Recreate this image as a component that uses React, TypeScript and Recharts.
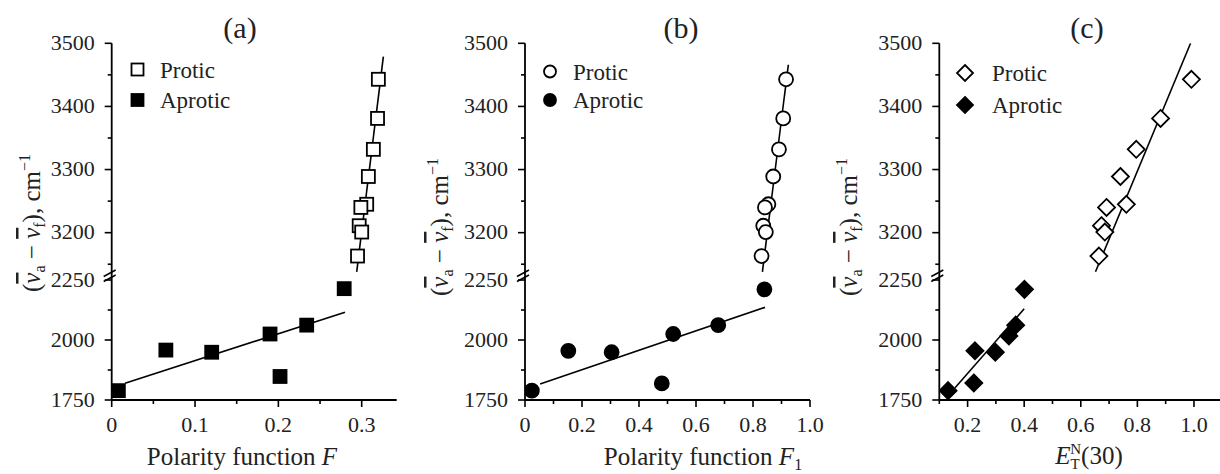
import React from 'react';
import { ScatterChart, Scatter, XAxis, YAxis, Customized } from 'recharts';

const FONT = "'Liberation Serif', 'Times New Roman', Times, serif";

// ---------------- data ----------------
// Stokes shift (cm^-1) of protic solvents
const shiftProtic = [3443, 3381, 3332, 3289, 3245, 3240, 3211, 3201, 3163];
// (a) polarity function F
const fProtic = [0.32, 0.319, 0.314, 0.308, 0.306, 0.299, 0.297, 0.3, 0.295];
const fAprotic = [0.008, 0.065, 0.12, 0.19, 0.202, 0.234, 0.279];
const shiftAproticA = [1789, 1958, 1949, 2025, 1848, 2062, 2214];
const fitFProticX = [0.294, 0.326];
const fitFProticY = [3138, 3479];
const fitFAproticX = [0.016, 0.28];
const fitFAproticY = [1820, 2116];
// (b) polarity function F1
const f1Protic = [0.916, 0.906, 0.891, 0.871, 0.854, 0.842, 0.836, 0.845, 0.83];
const f1Aprotic = [0.024, 0.152, 0.304, 0.48, 0.52, 0.678, 0.84];
const shiftAproticB = [1789, 1955, 1949, 1819, 2025, 2062, 2211];
const fitF1ProticX = [0.833, 0.924];
const fitF1ProticY = [3138, 3466];
const fitF1AproticX = [0.053, 0.842];
const fitF1AproticY = [1817, 2136];
// (c) E_T^N(30)
const etProtic = [0.991, 0.882, 0.796, 0.74, 0.761, 0.691, 0.673, 0.685, 0.664];
const etAprotic = [0.131, 0.226, 0.222, 0.298, 0.346, 0.37, 0.401];
const shiftAproticC = [1789, 1955, 1821, 1949, 2017, 2062, 2211];
const fitEtProticX = [0.652, 0.988];
const fitEtProticY = [3138, 3500];
const fitEtAproticX = [0.155, 0.4];
const fitEtAproticY = [1800, 2130];

// tick labels
const yMajorTicks = [1750, 2000, 2250, 3200, 3300, 3400, 3500];
const yMinorTicks = [1875, 2125, 3150, 3250, 3350, 3450];
const xMajorA = [0, 0.1, 0.2, 0.3];
const xMinorA = [0.05, 0.15, 0.25];
const xMajorB = [0, 0.2, 0.4, 0.6, 0.8, 1.0];
const xMinorB = [0.1, 0.3, 0.5, 0.7, 0.9];
const xMajorC = [0.2, 0.4, 0.6, 0.8, 1.0];
const xMinorC = [0.1, 0.3, 0.5, 0.7, 0.9];

// ---------------- broken y axis ----------------
const LOW_MIN = 1750;
const LOW_MAX = 2250;
const HIGH_MIN = 3125;
const HIGH_MAX = 3500;
const LOW_K = 0.24;
const HIGH_K = 0.6313;
const toAxis = (v: number) =>
  v <= LOW_MAX ? (v - LOW_MIN) * LOW_K : (LOW_MAX - LOW_MIN) * LOW_K + (v - HIGH_MIN) * HIGH_K;
const Y_TOP = toAxis(HIGH_MAX);
const allYTicks = [...yMajorTicks, ...yMinorTicks].sort((a, b) => a - b);
const yTickPos = allYTicks.map(toAxis);

const pts = (xs: number[], ys: number[]) => xs.map((x, i) => ({ x, y: toAxis(ys[i]) }));

const H = 474;
const PLOT_TOP = 43.3;
const PLOT_BOTTOM = 400;
const TICK_FS = 22;

type Kind = 'square' | 'circle' | 'diamond';

const Marker = ({ kind, filled, cx, cy, s }: { kind: Kind; filled: boolean; cx: number; cy: number; s: number }) => {
  const fill = filled ? '#000' : '#fff';
  const common = { fill, stroke: '#000', strokeWidth: 1.8 };
  if (kind === 'square') return <rect x={cx - s / 2} y={cy - s / 2} width={s} height={s} {...common} />;
  if (kind === 'circle') return <circle cx={cx} cy={cy} r={s / 2} {...common} />;
  return (
    <polygon
      points={`${cx},${cy - s / 2} ${cx + s / 2},${cy} ${cx},${cy + s / 2} ${cx - s / 2},${cy}`}
      {...common}
      strokeLinejoin="miter"
    />
  );
};

const sizeOf = (k: Kind) => (k === 'square' ? 13 : k === 'circle' ? 14 : 17);

const YTick = (props: any) => {
  const { x, y, payload } = props;
  const raw = allYTicks.find((r) => Math.abs(toAxis(r) - payload.value) < 0.01);
  const major = raw !== undefined && yMajorTicks.includes(raw);
  return (
    <g>
      <line x1={x} x2={x - (major ? 7 : 4)} y1={y} y2={y} stroke="#000" strokeWidth={1.6} />
      {major && (
        <text x={x - 17} y={y + 6.5} textAnchor="end" fontFamily={FONT} fontSize={TICK_FS} fill="#222">
          {raw}
        </text>
      )}
    </g>
  );
};

const makeXTick = (majors: number[]) => (props: any) => {
  const { x, y, payload } = props;
  const v = payload.value as number;
  const major = majors.some((m) => Math.abs(m - v) < 1e-6);
  return (
    <g>
      <line x1={x} x2={x} y1={y} y2={y + (major ? 7 : 4)} stroke="#000" strokeWidth={1.6} />
      {major && (
        <text x={x} y={y + 32} textAnchor="middle" fontFamily={FONT} fontSize={TICK_FS} fill="#222">
          {v === 0 ? '0' : v.toFixed(1)}
        </text>
      )}
    </g>
  );
};

type Cfg = {
  left: number;
  width: number;
  plotLeft: number;
  plotRight: number;
  xDomain: [number, number];
  xMajor: number[];
  xMinor: number[];
  kind: Kind;
  protic: { x: number; y: number }[];
  aprotic: { x: number; y: number }[];
  fitProtic: { x: number; y: number }[];
  fitAprotic: { x: number; y: number }[];
  title: string;
  titleX: number;
  yLabelX: number;
  yLabelY: number;
  xLabelX: number;
  xLabelY: number;
  xLabel: 'F' | 'F1' | 'ET';
  legendX: number;
  legendY1: number;
  legendY2: number;
  legendTextX: number;
};

const Decor = ({ cfg }: { cfg: Cfg }) => {
  const L = cfg.left;
  const ax = cfg.plotLeft;
  const yb = PLOT_BOTTOM - toAxis(LOW_MAX) - 3;
  const ls = cfg.kind === 'diamond' ? 16 : 12;
  const sub = 16;
  return (
    <g fontFamily={FONT} fill="#222">
      {/* axis break */}
      <polygon
        points={`${ax - 8},${yb - 0.5} ${ax + 4},${yb - 7} ${ax + 4},${yb - 2} ${ax - 8},${yb + 4.5}`}
        fill="#fff"
        stroke="none"
      />
      <line x1={ax - 8} y1={yb - 0.5} x2={ax + 4} y2={yb - 7} stroke="#000" strokeWidth={1.5} />
      <line x1={ax - 8} y1={yb + 4.5} x2={ax + 4} y2={yb - 2} stroke="#000" strokeWidth={1.5} />
      {/* title */}
      <text x={cfg.titleX - L} y={38} textAnchor="middle" fontSize={30}>
        {cfg.title}
      </text>
      {/* legend */}
      <Marker kind={cfg.kind} filled={false} cx={cfg.legendX - L} cy={cfg.legendY1} s={ls} />
      <Marker kind={cfg.kind} filled cx={cfg.legendX - L} cy={cfg.legendY2} s={ls} />
      <text x={cfg.legendTextX - L} y={cfg.legendY1 + 8} fontSize={23}>
        Protic
      </text>
      <text x={cfg.legendTextX - L} y={cfg.legendY2 + 8} fontSize={23}>
        Aprotic
      </text>
      {/* y label */}
      <text
        transform={`translate(${cfg.yLabelX - L},${cfg.yLabelY}) rotate(-90)`}
        x={0}
        y={0}
        textAnchor="middle"
        fontSize={25}
      >
        (
        <tspan fontStyle="italic" style={{ textDecoration: 'overline' }}>
          ν
        </tspan>
        <tspan fontSize={sub} dy={5}>
          a
        </tspan>
        <tspan dy={-5}> − </tspan>
        <tspan fontStyle="italic" style={{ textDecoration: 'overline' }}>
          ν
        </tspan>
        <tspan fontSize={sub} dy={5}>
          f
        </tspan>
        <tspan dy={-5}>), cm</tspan>
        <tspan fontSize={sub} dy={-10}>
          −1
        </tspan>
      </text>
      {/* x label */}
      {cfg.xLabel === 'ET' ? (
        <text x={cfg.xLabelX - L} y={cfg.xLabelY} textAnchor="middle" fontSize={25}>
          <tspan fontStyle="italic">E</tspan>
          <tspan fontSize={15} dy={5}>
            T
          </tspan>
          <tspan fontSize={15} dx={-9.5} dy={-15}>
            N
          </tspan>
          <tspan dy={10}>(30)</tspan>
        </text>
      ) : (
        <text x={cfg.xLabelX - L} y={cfg.xLabelY} textAnchor="middle" fontSize={25}>
          Polarity function <tspan fontStyle="italic">F</tspan>
          {cfg.xLabel === 'F1' && (
            <tspan fontSize={sub} dy={5}>
              1
            </tspan>
          )}
        </text>
      )}
    </g>
  );
};

const noShape = () => <g />;

const Panel = ({ cfg }: { cfg: Cfg }) => {
  const XTick = makeXTick(cfg.xMajor);
  const xTicks = [...cfg.xMajor, ...cfg.xMinor].sort((a, b) => a - b);
  const shapeOpen = (p: any) => <Marker kind={cfg.kind} filled={false} cx={p.cx} cy={p.cy} s={sizeOf(cfg.kind)} />;
  const shapeFilled = (p: any) => <Marker kind={cfg.kind} filled cx={p.cx} cy={p.cy} s={sizeOf(cfg.kind)} />;
  return (
    <div style={{ position: 'absolute', left: cfg.left, top: 0, width: cfg.width, height: H }}>
      <ScatterChart
        width={cfg.width}
        height={H}
        margin={{ top: PLOT_TOP, right: cfg.width - cfg.plotRight, bottom: 0, left: 0 }}
      >
        <XAxis
          type="number"
          dataKey="x"
          domain={cfg.xDomain}
          ticks={xTicks}
          interval={0}
          allowDataOverflow
          height={H - PLOT_BOTTOM}
          tickSize={0}
          tickMargin={0}
          tickLine={false}
          axisLine={{ stroke: '#000', strokeWidth: 1.8 }}
          tick={<XTick />}
        />
        <YAxis
          type="number"
          dataKey="y"
          domain={[0, Y_TOP]}
          ticks={yTickPos}
          interval={0}
          allowDataOverflow
          width={cfg.plotLeft}
          tickSize={0}
          tickMargin={0}
          tickLine={false}
          axisLine={{ stroke: '#000', strokeWidth: 1.8 }}
          tick={<YTick />}
        />
        <Scatter data={cfg.fitAprotic} line={{ stroke: '#000', strokeWidth: 1.6 }} shape={noShape} isAnimationActive={false} />
        <Scatter data={cfg.fitProtic} line={{ stroke: '#000', strokeWidth: 1.6 }} shape={noShape} isAnimationActive={false} />
        <Scatter data={cfg.aprotic} shape={shapeFilled} isAnimationActive={false} />
        <Scatter data={cfg.protic} shape={shapeOpen} isAnimationActive={false} />
        <Customized component={<Decor cfg={cfg} />} />
      </ScatterChart>
    </div>
  );
};

const panels: Cfg[] = [
  {
    left: 0,
    width: 405,
    plotLeft: 111.7,
    plotRight: 396.7,
    xDomain: [0, 0.342],
    xMajor: xMajorA,
    xMinor: xMinorA,
    kind: 'square',
    protic: pts(fProtic, shiftProtic),
    aprotic: pts(fAprotic, shiftAproticA),
    fitProtic: pts(fitFProticX, fitFProticY),
    fitAprotic: pts(fitFAproticX, fitFAproticY),
    title: '(a)',
    titleX: 240,
    yLabelX: 40,
    yLabelY: 223,
    xLabelX: 242,
    xLabelY: 465,
    xLabel: 'F',
    legendX: 137.5,
    legendY1: 69.5,
    legendY2: 100,
    legendTextX: 160,
  },
  {
    left: 405,
    width: 410,
    plotLeft: 120,
    plotRight: 405,
    xDomain: [0, 1.0],
    xMajor: xMajorB,
    xMinor: xMinorB,
    kind: 'circle',
    protic: pts(f1Protic, shiftProtic),
    aprotic: pts(f1Aprotic, shiftAproticB),
    fitProtic: pts(fitF1ProticX, fitF1ProticY),
    fitAprotic: pts(fitF1AproticX, fitF1AproticY),
    title: '(b)',
    titleX: 681,
    yLabelX: 448,
    yLabelY: 227,
    xLabelX: 703,
    xLabelY: 465,
    xLabel: 'F1',
    legendX: 550,
    legendY1: 71.5,
    legendY2: 100,
    legendTextX: 573,
  },
  {
    left: 815,
    width: 405,
    plotLeft: 124.3,
    plotRight: 405,
    xDomain: [0.1, 1.092],
    xMajor: xMajorC,
    xMinor: xMinorC,
    kind: 'diamond',
    protic: pts(etProtic, shiftProtic),
    aprotic: pts(etAprotic, shiftAproticC),
    fitProtic: pts(fitEtProticX, fitEtProticY),
    fitAprotic: pts(fitEtAproticX, fitEtAproticY),
    title: '(c)',
    titleX: 1087,
    yLabelX: 857,
    yLabelY: 227,
    xLabelX: 1089,
    xLabelY: 464,
    xLabel: 'ET',
    legendX: 965,
    legendY1: 73,
    legendY2: 105,
    legendTextX: 992,
  },
];

export default function App() {
  return (
    <div style={{ position: 'absolute', left: 0, top: 0, width: 1220, height: H, background: '#fff', overflow: 'hidden' }}>
      <style>{`.recharts-surface{overflow:visible}`}</style>
      {panels.map((p) => (
        <Panel key={p.title} cfg={p} />
      ))}
    </div>
  );
}
